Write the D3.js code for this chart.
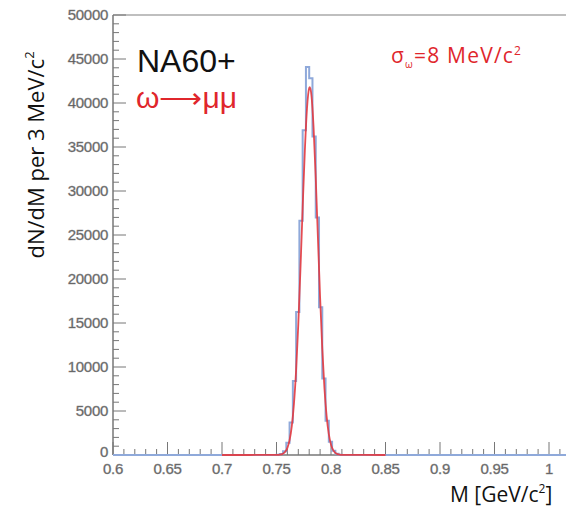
<!DOCTYPE html>
<html><head><meta charset="utf-8">
<script src="https://cdn.jsdelivr.net/npm/d3@7"></script>
<style>body{margin:0;background:#fff}svg{display:block}</style>
</head><body>
<svg id="c" width="566" height="508"></svg>
<script>
// Histogram bins (3 MeV wide), lower edges in GeV and counts
const binLow = [0.747,0.750,0.753,0.756,0.759,0.762,0.765,0.768,0.771,0.774,0.777,0.780,0.783,0.786,0.789,0.792,0.795,0.798,0.801,0.804,0.807,0.810];
const binCounts = [5,27,117,438,1385,3703,8420,16250,26620,36900,44100,42800,36200,27000,16800,8700,3900,1500,480,130,30,0];
// Gaussian fit curve sample points
const fitX = [0.700,0.750,0.752,0.754,0.756,0.758,0.760,0.762,0.764,0.766,0.768,0.770,0.772,0.774,0.776,0.778,0.780,0.7805,0.782,0.784,0.786,0.788,0.790,0.792,0.794,0.796,0.798,0.800,0.802,0.804,0.806,0.808,0.810,0.850];
const fitY = [0,7,20,58,150,362,812,1685,3251,5815,9650,14860,21220,28120,34570,39420,41700,41800,40930,37260,31470,24660,17930,12090,7560,4388,2363,1180,547,235,94,35,12,0];
const xTicks = [0.6,0.65,0.7,0.75,0.8,0.85,0.9,0.95,1];
const xTickLabels = ["0.6","0.65","0.7","0.75","0.8","0.85","0.9","0.95","1"];
const yTicks = [0,5000,10000,15000,20000,25000,30000,35000,40000,45000,50000];

const svg = d3.select("#c");
const L = 113, T = 15, B = 455, R = 566;
const x = d3.scaleLinear().domain([0.6, 1.0]).range([L, 549]);
const y = d3.scaleLinear().domain([0, 50000]).range([B, T]);
const axisCol = "#777";
const tickFont = "Liberation Sans, Arial, sans-serif";

// frame line
svg.append("line").attr("x1",L).attr("x2",R).attr("y1",T).attr("y2",T).attr("stroke","#aaa").attr("stroke-width",1.5);

// y axis: ticks inside
const yMinor = d3.range(0, 50001, 1000);
svg.append("g").selectAll("line").data(yMinor).join("line")
  .attr("x1", L).attr("x2", d => L + (d % 5000 === 0 ? 13 : 6))
  .attr("y1", d => y(d)).attr("y2", d => y(d))
  .attr("stroke", axisCol).attr("stroke-width", 1);
svg.append("line").attr("x1",L).attr("x2",L).attr("y1",T).attr("y2",B).attr("stroke",axisCol).attr("stroke-width",1.5);
svg.append("g").selectAll("text").data(yTicks).join("text")
  .attr("x", 108).attr("y", d => d === 0 ? y(d) + 2 : y(d) + 5)
  .attr("text-anchor","end").attr("font-family",tickFont)
  .attr("font-size", 15).attr("fill","#5a5a5a").attr("stroke","#8a8a8a").attr("stroke-width",0.4)
  .attr("letter-spacing",-0.3).text(d => d);

// x axis: ticks inside (upwards)
const xMinor = d3.range(0, 45).map(i => 0.6 + i * 0.01).filter(v => x(v) <= R);
svg.append("g").selectAll("line").data(xMinor).join("line")
  .attr("x1", d => x(d)).attr("x2", d => x(d))
  .attr("y1", B).attr("y2", (d, i) => B - (i % 5 === 0 ? 13 : 6))
  .attr("stroke", axisCol).attr("stroke-width", 1);
svg.append("line").attr("x1",L).attr("x2",R).attr("y1",B).attr("y2",B).attr("stroke",axisCol).attr("stroke-width",1.5);
svg.append("g").selectAll("text").data(xTicks).join("text")
  .attr("x", d => x(d)).attr("y", 474)
  .attr("text-anchor","middle").attr("font-family",tickFont)
  .attr("font-size", 15).attr("fill","#5a5a5a").attr("stroke","#8a8a8a").attr("stroke-width",0.4)
  .attr("letter-spacing",-0.3).text((d,i) => xTickLabels[i]);

// histogram (step)
const histPts = binLow.map((b,i) => [b, binCounts[i]]);
svg.append("path")
  .datum([[0.6,0], ...histPts, [1.04,0]])
  .attr("d", d3.line().x(d => x(d[0])).y(d => y(d[1])).curve(d3.curveStepAfter))
  .attr("fill","none").attr("stroke","#8fa9da").attr("stroke-width",2);

// fit curve
svg.append("path")
  .datum(fitX.map((v,i) => [v, fitY[i]]))
  .attr("d", d3.line().x(d => x(d[0])).y(d => y(d[1])).curve(d3.curveMonotoneX))
  .attr("fill","none").attr("stroke","#e2383f").attr("stroke-width",1.8).attr("stroke-opacity",0.9);

// texts
svg.append("text").attr("x",137).attr("y",72).attr("font-family","Liberation Sans, Arial, sans-serif")
  .attr("font-size",32).attr("fill","#111").text("NA60+");
svg.append("text").attr("x",136).attr("y",108).attr("font-family","Liberation Sans, Arial, sans-serif")
  .attr("font-size",30).attr("fill","#e0262c").text("ω⟶μμ");
const s = svg.append("text").attr("x",391).attr("y",63).attr("font-family","Open Sans, sans-serif")
  .attr("font-size",21).attr("letter-spacing",1.2).attr("fill","#e0262c");
s.append("tspan").text("σ");
s.append("tspan").attr("font-size",10).attr("dy",5).text("ω");
s.append("tspan").attr("dy",-5).text("=8 MeV/c");
s.append("tspan").attr("font-size",12).attr("dy",-8).text("2");

const yl = svg.append("text").attr("transform","translate(44,155) rotate(-90)")
  .attr("text-anchor","middle").attr("font-family","Open Sans, sans-serif")
  .attr("font-size",22).attr("fill","#111");
yl.append("tspan").text("dN/dM per 3 MeV/c");
yl.append("tspan").attr("font-size",13).attr("dy",-10).text("2");

const xl = svg.append("text").attr("x",450).attr("y",502).attr("font-family","Open Sans, sans-serif")
  .attr("font-size",21).attr("fill","#111");
xl.append("tspan").text("M [GeV/c");
xl.append("tspan").attr("font-size",12).attr("dy",-9).text("2");
xl.append("tspan").attr("dy",9).text("]");
</script>
</body></html>
